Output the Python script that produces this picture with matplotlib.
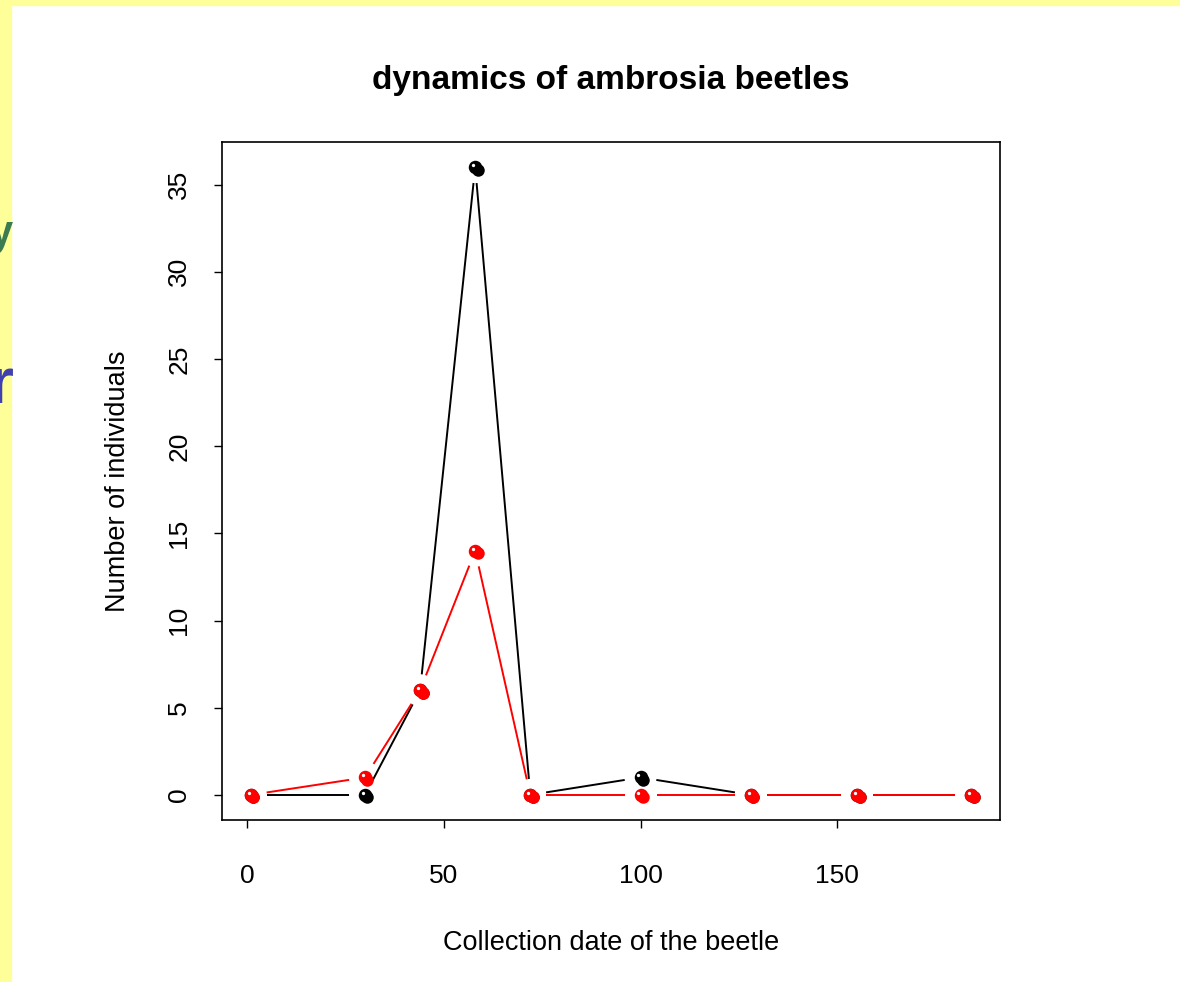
import numpy as np
import matplotlib
matplotlib.use("Agg")
import matplotlib.pyplot as plt
from matplotlib.patches import Rectangle
from matplotlib.transforms import offset_copy

plt.rcParams['font.family'] = ['Liberation Sans', 'DejaVu Sans']

# collection dates and beetle counts
dates = [1, 30, 44, 58, 72, 100, 128, 155, 184]
count_black = [0, 0, 6, 36, 0, 1, 0, 0, 0]
count_red = [0, 1, 6, 14, 0, 0, 0, 0, 0]
xticks = [0, 50, 100, 150]
yticks = [0, 5, 10, 15, 20, 25, 30, 35]

W, H = 1180, 982
fig = plt.figure(figsize=(W / 100, H / 100), dpi=100)
fig.patch.set_facecolor('white')

# slide background strips
fig.add_artist(Rectangle((0, 0), 11 / W, 1, transform=fig.transFigure,
                         color='#ffff99', zorder=0))
fig.add_artist(Rectangle((0, 1 - 5 / H), 1, 5 / H, transform=fig.transFigure,
                         color='#ffff99', zorder=0))
fig.text(-0.009, 1 - 234 / H, 'y', fontsize=30, color='#3c7a50',
         ha='left', va='center', fontweight='bold')
fig.text(-0.010, 1 - 386 / H, 'r', fontsize=46, color='#4040b0',
         ha='left', va='center', fontweight='bold')

ax = fig.add_axes([222 / W, 1 - 820 / H, 778 / W, 678 / H])
ax.set_xlim(1 - 0.04 * 183, 184 + 0.04 * 183)
ax.set_ylim(-0.04 * 36, 36 * 1.04)
ax.set_xticks(xticks)
ax.set_yticks(yticks)
ax.tick_params(direction='out', length=6, width=1, labelsize=19, color='black')
ax.tick_params(axis='x', pad=26)
ax.tick_params(axis='y', pad=16)
for lab in ax.get_yticklabels():
    lab.set_rotation(90)
    lab.set_va('center')
for sp in ax.spines.values():
    sp.set_linewidth(1.2)

ax.set_title('dynamics of ambrosia beetles', fontsize=24, fontweight='bold', pad=38)
ax.set_xlabel('Collection date of the beetle', fontsize=19.5, labelpad=30)
ax.set_ylabel('Number of individuals', fontsize=19.5, labelpad=26)


def plot_b(ax, x, y, color, gap=16):
    """Lines with gaps around the points, like R's type='b'."""
    pts = ax.transData.transform(np.column_stack([x, y]))
    inv = ax.transData.inverted()
    for p0, p1 in zip(pts[:-1], pts[1:]):
        d = p1 - p0
        L = np.hypot(*d)
        if L <= 2 * gap:
            continue
        u = d / L
        seg = inv.transform(np.vstack([p0 + u * gap, p1 - u * gap]))
        ax.plot(seg[:, 0], seg[:, 1], color=color, lw=1.4, solid_capstyle='butt')
    # shaded ball markers
    shadow = offset_copy(ax.transData, fig=fig, x=2.5, y=-2.5, units='dots')
    light = offset_copy(ax.transData, fig=fig, x=-2.2, y=2.2, units='dots')
    ax.plot(x, y, 'o', color=color, ms=9, transform=shadow, mew=0)
    ax.plot(x, y, 'o', mfc=color, mec=color, ms=8.5, mew=1.2)
    ax.plot(x, y, 'o', color='white', ms=2.4, transform=light, mew=0)


plot_b(ax, dates, count_black, 'black')
plot_b(ax, dates, count_red, '#ff0000')

fig.savefig('out.png', dpi=100)
